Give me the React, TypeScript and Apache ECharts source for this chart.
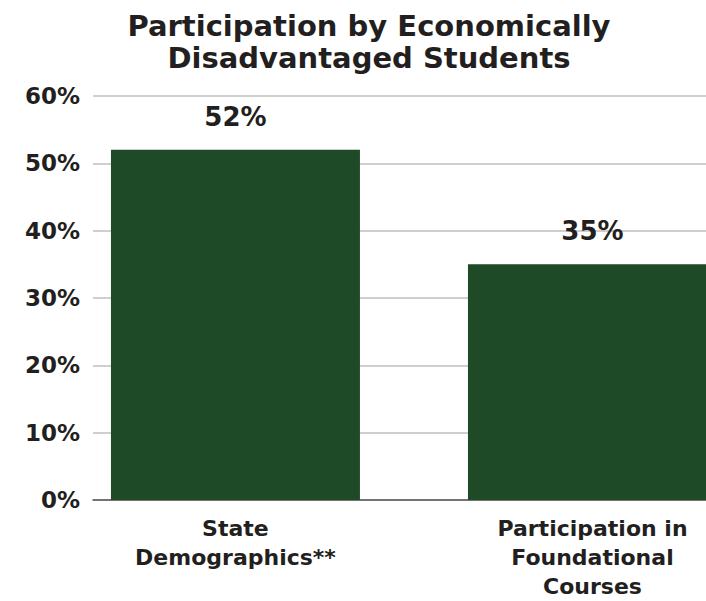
import React, { useEffect, useRef } from "react";
import * as echarts from "echarts";

const categories = ["State\nDemographics**", "Participation in\nFoundational\nCourses"];
const values = [52, 35];
const yTicks = [0, 10, 20, 30, 40, 50, 60];
const titleText = "Participation by Economically\nDisadvantaged Students";

const FONT = "'DejaVu Sans', sans-serif";

export default function App() {
  const ref = useRef<HTMLDivElement>(null);
  useEffect(() => {
    if (!ref.current) return;
    const chart = echarts.init(ref.current, undefined, { renderer: "svg" });
    const seriesData = values.map((v, i) => [i, v]);
    chart.setOption({
      animation: false,
      backgroundColor: "#ffffff",
      title: {
        text: titleText,
        left: 364,
        textAlign: "center",
        top: 5,
        textStyle: {
          fontFamily: FONT,
          fontWeight: 700,
          fontSize: 29,
          lineHeight: 32,
          color: "#231f20",
        },
      },
      grid: { left: 93, right: 0, top: 96, bottom: 100, containLabel: false },
      xAxis: {
        type: "value",
        min: -0.399,
        max: 1.318,
        splitLine: { show: false },
        axisTick: { show: false },
        axisLine: { show: true, onZero: false, lineStyle: { color: "#555555", width: 1.5 } },
        axisLabel: {
          customValues: [0, 1],
          formatter: (v: number) => categories[Math.round(v)] ?? "",
          fontFamily: FONT,
          fontWeight: 700,
          fontSize: 22,
          lineHeight: 29,
          color: "#231f20",
          margin: 14,
          align: "center",
          showMinLabel: true,
          showMaxLabel: true,
        },
      },
      yAxis: {
        type: "value",
        min: yTicks[0],
        max: yTicks[yTicks.length - 1],
        interval: 10,
        axisLine: { show: false },
        axisTick: { show: false },
        splitLine: { show: true, lineStyle: { color: "#bfbfbf", width: 1.5 } },
        axisLabel: {
          formatter: (v: number) => v + "%",
          fontFamily: FONT,
          fontWeight: 700,
          fontSize: 23,
          color: "#231f20",
          margin: 13,
        },
      },
      series: [
        {
          type: "bar",
          data: seriesData,
          barWidth: 249,
          clip: true,
          itemStyle: { color: "#1f4a27" },
          label: {
            show: true,
            position: "top",
            distance: 20,
            formatter: (p: any) => p.value[1] + "%",
            fontFamily: FONT,
            fontWeight: 700,
            fontSize: 26,
            color: "#231f20",
          },
        },
      ],
    });
    return () => chart.dispose();
  }, []);
  return (
    <div
      ref={ref}
      style={{ position: "fixed", left: 0, top: 0, width: 706, height: 601 }}
    />
  );
}
